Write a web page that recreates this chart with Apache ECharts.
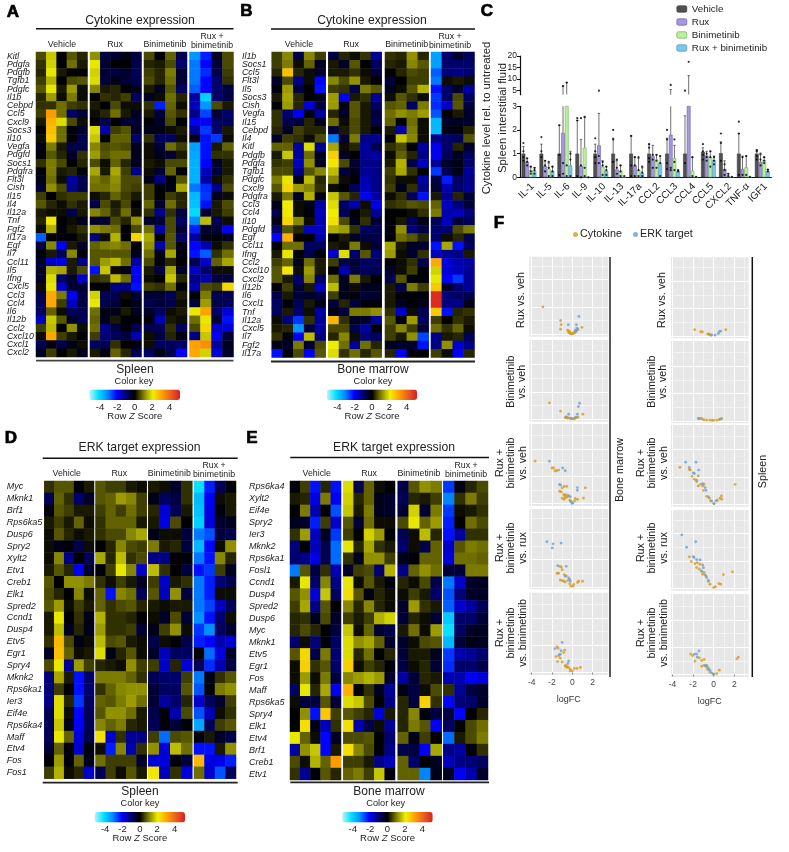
<!DOCTYPE html>
<html><head><meta charset="utf-8">
<script src="https://cdn.jsdelivr.net/npm/echarts@6/dist/echarts.min.js"></script>
<style>html,body{margin:0;padding:0;background:#fff}#c{width:789px;height:852px}</style></head>
<body><div id="c"></div>
<script>
const genesA=["Kitl","Pdgfa","Pdgfb","Tgfb1","Pdgfc","Il1b","Cebpd","Ccl5","Cxcl9","Socs3","Il10","Vegfa","Pdgfd","Socs1","Pdgfra","Flt3l","Cish","Il15","Il4","Il12a","Tnf","Fgf2","Il17a","Egf","Il7","Ccl11","Il5","Ifng","Cxcl5","Ccl3","Ccl4","Il6","Il12b","Ccl2","Cxcl10","Cxcl1","Cxcl2"];
const heatA=[
[.6,1.7,0,.7,.3,1.2,-.6,-.5,-.2,-.6,.6,0,.8,-.7,-3.3,-2.3,-.3,.6],
[.4,1.8,0,.9,.2,2,-.5,0,0,-.7,.3,.2,.6,-1,-3,-2.1,-.5,.6],
[.3,2,.2,0,0,1.8,-.5,-.6,-.4,-.8,.5,.3,1,-.5,-3,-2.4,-.7,.5],
[.5,1.5,0,.6,.7,1.9,-.6,-.2,-.5,-.7,.6,.3,.9,-.5,-3,-2.1,-1,.4],
[.7,2,.2,1.3,.1,1.1,.2,.3,0,-.3,.2,-.3,.7,-.9,-2.8,-2.1,-1,-.7],
[.3,1.3,.1,1,.1,0,.4,.3,.5,-.9,-.3,.1,.9,.3,-1.4,-4,-1,-.6],
[.4,.4,.9,.5,.4,.2,-.1,.6,.1,.1,.4,-2.3,.8,.1,-1.6,-3.3,.6,.2],
[.5,3.2,.9,-1,-.5,.1,.3,.9,.2,-.3,.2,-.5,.7,.4,-1.2,-2.6,-.5,-1],
[.2,2.9,1.9,.6,.1,0,-.7,0,-.5,-.5,0,-.4,.6,-.1,-2,-2,-.9,-.9],
[0,2.7,.9,-.1,-.4,1.9,-1.5,.5,.7,-.4,-.3,-.2,.1,.2,-1.4,-2.5,-1,.2],
[.1,2.6,.9,0,-.7,1.7,-.1,.8,.8,-1,.4,-.9,-.9,.1,-.3,-2.2,-2.5,.1],
[-.2,1,.2,-.7,-.7,1.1,.6,.7,.6,-.3,.1,-.5,.9,.5,-3.4,-2.2,.2,.8],
[-.1,.7,.3,-.4,.4,1.3,.7,.9,.9,-.3,.1,-.3,-.5,.2,-3.5,-2.2,.4,.4],
[.4,1,.6,0,.3,.6,.1,.8,.3,-.3,.2,.1,.6,.6,-3.6,-2.1,-.4,.2],
[-.1,1,.2,.3,-.1,1.4,.2,1.4,.5,-1.2,.1,-.5,.8,0,-3.6,-1.6,-.6,.2],
[-.2,.9,.1,-1.4,-.7,1,.8,1.2,.6,.6,-.2,-1.2,-.1,.7,-3.6,-1.4,.1,.4],
[-.5,1.2,.6,-1.3,-.7,.9,.9,1.1,.6,.5,.5,-.1,-.2,1.4,-3,-2.4,-1.2,.6],
[.5,0,.4,.5,.5,.1,.3,.8,.5,.2,.5,0,.5,.3,-3.7,-2.5,-.3,.1],
[.7,.3,.1,.4,.2,-.7,.6,.2,.6,0,.8,-.4,.9,.3,-3.8,-2.2,.2,.6],
[.2,.1,.1,-.7,.2,1.1,.8,.3,.9,.1,.4,-1.2,.4,-.6,-4.1,-.5,.2,.5],
[.3,2.2,0,.1,-.3,-.4,-.5,.6,.3,1.2,-.4,-.5,.6,-.9,-3.2,1.6,-.8,.1],
[.1,1.5,-.1,.2,.4,1.2,1,.9,-.1,.6,.9,-1.5,.6,-.5,-2.3,-.4,-.5,-2],
[-2.8,0,-.1,-.1,.2,-1.1,.1,1.5,-.1,2.4,1.4,0,.7,-.9,-1.4,-.2,-.1,-.3],
[-.6,1.1,-2,.2,-.4,.8,1,1.1,.9,0,1.2,-1.5,.7,-.2,-2.1,-1.5,.1,.4],
[-.1,.2,-.8,1.1,-.1,.7,.7,.7,.7,-.3,.9,-.3,1.4,-.1,-2.2,-2.8,.4,.9],
[-.4,-1.7,-1.9,.2,-1.2,.7,1.3,1.6,.9,-1.4,.6,-.1,.3,0,-.7,-1.7,.8,1.4],
[-.4,1.5,1.4,.2,.6,-2.2,1.7,.1,-.2,-2,.2,-.6,1.4,-.4,-1.6,-1,.1,.1],
[-.4,1.9,-1,-.4,-1.7,.4,.5,1.6,.9,-2,.1,0,1.7,.3,-1.2,-1.5,-.6,-.6],
[.1,2,-1.7,-.5,-.5,0,0,-1.2,-1.2,-2.2,.5,.4,.9,-.1,-1.5,.6,.5,2.4],
[-.7,3,1,-2,-.6,1.8,-.8,-.7,.1,-.5,-.5,-.5,-.8,.2,-.1,1,-.7,-.8],
[-.8,3,.5,-1.6,-.6,2,-.7,-.5,0,-.3,-.7,-.5,-.7,.1,-.5,1.3,-.7,-.8],
[-.9,.8,.1,-.9,-.7,.9,-.2,-.2,.2,-.3,-.4,-.9,.1,.2,2,3.1,-1,-1.8],
[-1.6,1.7,.7,-.4,-.8,.8,-.2,.2,0,-.1,-.1,-1.5,.2,.1,.9,2,-.5,-2.2],
[.5,1.6,0,1.2,.1,.9,-1.2,-.6,-.1,-.7,-.7,-.8,.4,-.9,.6,2.4,-1.7,-1.8],
[.1,3,.5,.2,-.1,.5,-1.1,-.9,-.6,-1.5,.1,-.6,.3,-.1,-1.2,1.7,-2,-.5],
[-.8,-.2,-.7,-.2,.1,-.9,-.8,.4,0,-.1,.1,-.9,-.9,-.9,3.1,3.4,-1.4,-.3],
[-.3,.5,0,.2,-.3,.2,-.1,.8,.3,-.8,-.9,-.2,-.7,-2,3,1.8,-1.8,-.4]];
const genesB=["Il1b","Socs1","Ccl5","Flt3l","Il5","Socs3","Cish","Vegfa","Il15","Cebpd","Il4","Kitl","Pdgfb","Pdgfa","Tgfb1","Pdgfc","Cxcl9","Pdgfra","Ccl3","Ccl4","Il10","Pdgfd","Egf","Ccl11","Ifng","Ccl2","Cxcl10","Cxcl2","Il12b","Il6","Cxcl1","Tnf","Il12a","Cxcl5","Il7","Fgf2","Il17a"];
const heatB=[
[.5,1.1,-.7,1.1,.5,-.6,.3,.1,.4,-1.3,.4,.3,1.2,.3,-3.4,-1,-.4,-.8],
[.5,1,.1,.8,-.3,.2,-.4,.7,0,-.9,.3,.2,1.1,.7,-3.4,-1,-1,-1],
[.3,2.7,.3,.1,-.4,.2,.2,.4,.1,-.6,0,.3,.6,.5,-2.8,-1.1,-1.2,-1],
[-.4,.6,-1.2,.1,-2.1,1.1,.6,1.2,.2,0,-.5,0,.5,.5,-3,.1,.2,.1],
[-.1,1.3,-.6,0,-2.2,.5,.4,-.7,1,.7,-.3,.1,.7,1.5,-2.2,-1,-.4,-1.4],
[.2,1.4,.3,0,-.2,1.3,-2,.2,.4,-1.3,.1,.7,.4,.1,-2.5,-1,.6,-.9],
[-.1,1.3,.3,-1.8,-.6,1.3,-.2,.7,.2,-.9,.7,.8,-.9,1,-2.4,-1.7,.7,-.6],
[.4,-1,-2,-.2,-1.4,.3,-.4,.7,.2,-.6,.9,1.2,1,1.3,-2.7,0,.2,-.4],
[.4,-.7,-.6,.3,-.3,.9,.1,.6,.2,-.7,.8,0,.9,.1,-3.7,-.4,-.3,-.4],
[.3,-.3,.5,.3,.3,-.5,.2,.6,.2,-.1,.2,-1.5,1,.1,-3.7,-.2,-.1,.3],
[-.4,.5,.4,.1,.6,-3,-.5,1,-1.2,-1.3,-.1,1.7,1.1,.1,-1.2,-1,-.9,.7],
[.8,.8,-1.4,1.9,-1.3,1.4,.1,.3,-1.4,-.7,.4,.6,0,-1.4,-1.9,-1,.3,-.4],
[.2,1.7,-1.4,.9,-.3,2.5,-.4,0,-1.3,-1.4,.1,.8,.3,-1.2,-2,-.8,-.3,-.9],
[.4,.5,-1.6,1.2,-.3,2.2,.6,-.4,-1.2,-1.2,.2,1.5,-.7,-1.6,-1.3,-.4,-.2,-1],
[.6,.6,-1.2,.7,1.1,1.6,-.6,-.2,-1.3,-1.2,.5,1.4,.4,-.1,-2.5,-.7,-.2,-1.3],
[1,2,-.3,1.6,.3,1.1,.1,0,-1.5,-1.2,.4,.1,.1,-1.4,-.6,-2.3,-.9,-1.2],
[.7,2.4,1.3,1.1,.4,.1,0,-.8,-1.6,-1.2,.5,-.3,.4,-1.2,-.5,-1.5,-1,-1.3],
[.2,1,-.4,1.5,-.1,1.7,.7,.3,-2,-1.4,.1,.4,-.8,-2.2,.2,-1.3,.3,-.5],
[-.2,2.1,.1,-.2,-1.4,1.9,-1,-1.5,.1,-1.9,.4,.5,.7,.6,.8,-1.6,-1.1,-.5],
[-.7,2.2,.1,-.1,-1.6,2.1,-.8,0,.2,-1.3,0,0,.1,.4,1,-1.5,-1.6,-1.1],
[-.2,2.4,1.1,.1,-1.5,2.3,.6,-.3,.4,-.5,-.1,.2,-.8,-.2,-.8,-1.6,-.5,-.8],
[-1,.7,.3,-1.6,-1.6,1.5,1.3,.4,-.9,-.8,-.1,1.2,-1.1,-.7,-1,-1,.6,1],
[-2.1,2.9,0,0,-1.4,0,.2,-.4,-.6,-.7,-.1,.9,.7,.3,-1,.1,.3,-.7],
[0,.9,.9,-.9,-.8,.2,.1,1,.1,-.5,1.4,.2,-.4,-.5,-2.2,1.4,-2.2,-.9],
[.2,2,0,-.7,-.1,-1.7,1.9,-1,.7,-1.1,1.3,.1,-.4,.4,-1.6,-1.3,-1.2,.2],
[.5,.8,-.3,.9,.2,.5,-.7,-.5,-.9,-.9,0,.1,.4,-.7,3,-1.8,-1.5,-1.4],
[.7,2.2,.1,1.3,.2,0,-1.5,-.6,-.9,-.8,-.4,.1,.5,-.1,1.8,-1.8,-1.6,-1.3],
[.7,.2,-1,1.1,-1,.9,-.3,1,.2,0,-.7,.7,-.1,-.1,2,-2,-2.5,-1.3],
[-.1,.5,-.6,.2,-1.6,1.6,-.3,.1,-.3,-.3,.2,-.7,1,.5,2.6,-.4,-1,-1.3],
[-.7,.2,-.5,-.4,-.6,.5,-.2,-.1,-.5,-.4,.2,-.1,0,-.1,5,-1.1,-.9,-.7],
[-.9,-.1,-.8,.2,-.2,-.5,.3,-.6,-.1,-.1,.2,-.3,-.1,-.2,5,-1.1,-1.2,-.2],
[-.9,.2,-1,.1,-1.4,-.2,-.6,1,1,1.2,.4,-1.7,.1,-.8,2.6,-2.2,.3,.4],
[.1,-1.1,-2.5,.4,-1.3,2.8,.4,-.3,-.4,-1.4,.7,-.1,1.3,-.9,.5,0,.4,.2],
[.2,.3,-3.3,-.6,-1.4,.6,.6,-.7,-1.4,-.1,.5,1.1,.5,-.5,.9,.4,.8,.1],
[.4,-.1,-2,1.6,-1.1,.3,1.1,.1,-1.1,-.9,.5,.2,1.2,-2.6,-1.2,.2,.3,-.8],
[-.2,-.4,1,-.4,.6,2.1,.9,-1.3,.9,.3,-.3,-.4,-.5,-2.2,-1.2,1.2,-1.7,-1.2],
[-2.2,-.1,.6,-2,.7,1.9,.4,.9,.3,.7,.3,-2,-.1,0,.5,.1,-2,.3]];
const genesD=["Myc","Mknk1","Brf1","Rps6ka5","Dusp6","Spry2","Xylt2","Etv1","Creb1","Elk1","Spred2","Ccnd1","Dusp4","Etv5","Egr1","Spry4","Mknk2","Rps6ka1","Ier3","Eif4e","Rps6ka4","Maff","Etv4","Fos","Fos1"];
const heatD=[
[.4,.7,.7,-.1,.2,.7,.5,.5,.2,.1,.2,.1,-.4,.4,-4.2,-2.3,-.8,-.1],
[-.8,.8,.4,-1,-.4,.7,.8,1.3,1.1,.5,-.2,-.9,-.6,.4,-3.7,-2,.1,.2],
[-.1,.7,.5,.2,.2,.5,.8,.5,.9,.5,.3,-1.8,-.8,.2,-3.8,-1.9,-.1,.2],
[.2,.5,.2,.8,.1,.4,.8,.8,.8,.2,.2,-1.9,.6,0,-4,-1.8,-.4,-.3],
[.1,.7,.3,.1,.2,.4,.6,.6,1.1,1.4,-.2,.1,.1,-.6,-3,-2.7,-.6,-.7],
[.1,-.2,-.1,-.7,.1,0,.3,1.1,.6,.5,1,.2,.3,-.6,-3.7,-2.1,.1,1.2],
[.1,1.1,-1.2,0,-.8,1.4,.3,1.6,.4,.6,-1.2,-1.2,0,-.1,-3,-2.2,1.1,.3],
[.2,.7,.3,-2,-.4,-.1,.5,2,1.1,-1.7,1.6,.4,0,-.6,-2.2,-2.5,.5,-.3],
[.7,0,1.2,1.2,1,.4,.1,.5,.2,-.3,.5,-1.7,.2,.4,-3,-2.3,-1.1,-.7],
[.6,.3,0,1.1,.1,.8,-2.2,1.1,.9,-.8,.7,-1.6,1.2,-.6,-3,-2.3,.1,.1],
[.7,1.3,.1,.5,.2,.8,.4,.6,.7,.3,.2,.1,.2,.2,-3,-2.6,-1.6,-.8],
[.2,2,0,.4,-.2,1.5,.4,.4,.3,0,.1,-.4,.6,-.5,-3.2,-2.2,-1,.1],
[.2,1.6,-.3,.3,-.2,1.3,.4,.4,.5,-.5,-.2,.5,1.2,.1,-2.5,-3.2,-.9,-.4],
[.4,2.8,.6,-.2,.1,1.6,.6,.7,.2,.1,-.7,.1,0,-.7,-2.3,-2.1,-1.5,-1.7],
[-.3,2.7,.8,.1,.2,1.9,-.2,.3,.7,.1,-.4,-1.6,-.9,-.9,0,-2.9,-1.8,-.4],
[.6,2,-1.3,1.3,.5,.3,.2,.1,1.2,.5,.5,-1.7,.3,-1.8,-.8,-2.4,-1.5,-.6],
[-1.1,1.4,.2,-2.2,-1,1,1,1,.8,.4,-.8,-1,-1,.5,-3,-.2,.4,.7],
[-1.1,.5,0,-2.2,-1,.4,.8,1.1,1.2,1.2,-.5,-.9,-.9,.7,-2.7,-.1,1,1.2],
[-1.2,1.9,.3,-2.5,-.9,.8,.7,1,1.3,.9,-.5,-1.4,-1,.3,-1.7,-.9,-.4,.5],
[-.8,1.9,.1,-2.1,-.8,.7,1.2,1.2,.9,.2,-.7,-.1,-1.5,.6,-2.7,-1.6,.1,.4],
[-.8,1.7,-.2,-2,-.8,1.1,.8,1,.3,.2,-.8,-.1,-.5,-.1,-3.5,-.8,.5,.7],
[-.8,2,.8,-1.8,-.7,2.3,-1.7,.4,-1.3,-1.2,.5,-2.9,.6,.7,-.1,.2,-.4,-.7],
[-.5,.8,-.1,-1.7,-.1,.1,-2.3,1.1,-1.5,.4,1.2,-1.8,1.6,.9,-2.2,-2.2,.2,1.2],
[-.1,1.3,-.1,.8,-.2,.9,.5,.5,.5,-.4,-1.8,-1.8,-.1,-.6,2.8,-1.9,-1.9,-2.3],
[.5,1.5,.1,.3,-1.7,-.8,.5,.1,.7,.2,2.2,-1.6,.4,-1.8,.9,-1.7,-2.7,-.8]];
const genesE=["Rps6ka4","Xylt2","Eif4e","Spry2","Ier3","Mknk2","Rps6ka1","Fosl1","Ccnd1","Dusp4","Spred2","Dusp6","Myc","Mknk1","Etv5","Egr1","Fos","Maff","Rps6ka5","Spry4","Elk1","Etv4","Brf1","Creb1","Etv1"];
const heatE=[
[-.1,.5,-2.2,.3,-2.2,1.9,-.7,.8,.1,0,-.7,.7,1.2,1,-2.5,-.2,.3,.6],
[.2,.3,-1.9,1,-2,1.8,.3,.8,-.2,-.4,-.8,.3,.2,.5,-3.1,.4,1,.5],
[0,1,-1.5,0,-2.7,1.7,.2,1,-.3,-.4,-.5,1.8,-.5,1,-2.5,.1,.2,.4],
[-.3,-.4,-2.3,.5,-1.7,.7,-.5,.9,.1,.1,.6,2,.8,1.3,-2.3,0,.9,.6],
[.4,1.3,-1.6,-.3,-2.5,.5,0,1.8,1.3,-.1,-.8,.1,1.6,.3,-2.2,-1.4,.4,.4],
[-1.1,0,-1.6,-.7,-2.9,2,.3,1.4,.4,.2,-1,.1,-.7,.8,-1.7,.7,1,.9],
[-1,-1.2,-1.9,-.7,-2.9,.4,-.3,1.2,1.2,.5,-.2,-.1,.8,.8,-1.8,.9,.9,.8],
[-3,.7,-.6,.4,-1.5,-.4,.5,.6,-1,1.5,-1.2,.8,1.2,.9,-.5,-.5,1,1],
[.2,2,-1,1.1,-1.2,2,.1,.7,.2,-.1,.3,.1,.6,-.7,-3,-1.7,-.4,-.3],
[.7,1.2,-1.8,1.7,-.9,2.3,.7,-.1,.3,.1,.1,.5,.2,-1,-2.7,-1.1,-.4,-.3],
[.5,1.4,-1.2,.7,0,1.1,.3,1.1,.3,.1,-.4,1.3,.4,.2,-2.8,-1.7,-1.4,-.8],
[.3,.4,-.3,.6,-.4,.5,.2,.5,1.5,1.8,-.5,.3,.1,-.5,-3.9,-1,-1,-.5],
[.3,.6,.3,0,-.6,1.7,.1,.8,-.5,-.7,.2,.9,.1,1.3,-4.2,-.9,-.4,-.3],
[-1,.1,-1.1,-.1,-.9,1.9,1.2,1.4,.8,-.4,-.4,.1,.6,.7,-3.7,-.5,-.2,-.3],
[.7,2.4,-.7,1,-1,1.9,.3,.9,0,.3,-.5,.2,.2,-.3,-2.5,-1.5,-1.3,-1],
[.1,2.5,.4,.7,-1,2.5,.1,.5,.3,-.1,-.6,.1,.3,-.5,-2.4,-1,-1,-.7],
[.1,1.3,.1,1,-.6,1.1,1.3,1.5,1.3,-.4,-1.4,-.5,.3,.2,-1.5,-1.5,-2,-1.8],
[-.9,2,.3,1.4,-2,2.9,-.1,.4,-.3,-1.3,-.2,-.6,.1,.6,.4,-1.3,-.6,-.4],
[.1,-.6,-.6,.7,-.5,1.9,1.7,.6,0,-1.2,.3,-.6,2.5,.4,-2.1,-1.1,-1,-.4],
[0,1.2,-2.2,2.6,.5,.7,.5,.3,-1.8,.2,.3,1.1,-.1,-.6,-.6,-2.1,0,.3],
[0,2.3,-.2,-1.6,.4,2.3,-1.5,-.7,.1,-1.3,.3,1,.7,-2,-.9,-.1,.6,.9],
[2,.8,.1,-2.1,-.3,.6,.6,.7,0,-1,.8,-.2,.5,0,-2.9,.2,.6,1],
[-1.4,1.2,1.7,-2.1,.2,2.3,1.1,.6,-.1,-1.2,-.7,-.6,-2,1.4,-1.2,-1.4,-.1,.4],
[.6,.1,1.5,.8,3.2,.5,.5,.2,-1.2,-1.6,.8,-1,0,-.3,-1.6,-1.2,-1.1,-.9],
[.4,-1.3,-.1,.7,.3,.8,1,.5,1.7,-.1,.8,.8,-3.1,-.2,-.3,-2,-1.5,-.4]];
const groupSizes=[5,5,4,4];
const keyTicks=[-4,-2,0,2,4];
const heatColors=['#b4f6ff','#00e0ff','#0088ff','#0000ff','#000070','#000000','#808000','#f0f000','#ffa000','#e86020','#d82020'];

const cytokinesC=["IL-1","IL-5","IL-6","IL-9","IL-10","IL-13","IL-17a","CCL2","CCL3","CCL4","CCL5","CXCL2","TNF-α","IGF1"];
const treatC=["Vehicle","Rux","Binimetinib","Rux + binimetinib"];
const barVehicle=[1,1,1,1,1,1,1,1,1,1,1.08,1.02,1,1];
const barRux=[.65,.47,1.87,.48,1.35,.33,.5,.9,1.8,3.3,.92,.35,.35,.65];
const barBini=[.3,.36,3.3,1.25,.45,.26,.3,.75,.8,.27,.85,.05,.42,.72];
const barCombo=[.27,.26,.5,0,.27,0,.17,.6,.25,0,.72,0,0,.27];
const errVehicle=[1.3,1.4,2.2,2.4,1.4,1.65,1.75,1.4,1.65,2.6,1.25,1.5,1.85,1.15];
const errRux=[.8,.7,7,1.6,2.7,.7,.85,1.35,5.5,11.5,1.1,.7,.9,.95];
const errBini=[.45,.6,8.5,2.55,.7,.5,.8,.95,1.35,.85,1.1,.15,.9,.85];
const errCombo=[.4,.45,1.1,0,.45,0,.4,.9,.3,0,.9,0,0,.33];
const dotsVehicle=[[1.45,1.1,.85,.7],[1.7,1.1,.85],[2.2,.95,.1],[2.5,2.4,.05],[1.65,1.1,.85,.6],[2,1.6,.65],[1.75,.5,.05],[1.4,1.25,.8,.65],[2,1.6,.6,.35],[5,.6],[1.4,1.1,.95,.75],[1.85,1.45,.7],[2.35,1.85,.1],[1.15,1.1,.9,.75]];
const dotsRux=[[.8,.65,.5],[.7,.5,.25],[7,.6,.15],[2.5,.5,0],[5,.9,.6],[.75,.4,.15],[.85,.5,.05],[.95,.75,.4],[7.5,.4,.3],[17.5],[1,.85,.7],[.55,.3,.1],[.85,.1],[1,.75,.5]];
const dotsBini=[[.45,.25,.15],[.65,.4,.05],[8.5,.5,.05],[2.55,.4,.05],[.65,.5,.1],[.5,.25,.05],[.85,.3,.05],[.95,.7,.4],[1.6,.65,.3],[.85,.05],[1.1,.85,.45],[.15,.05],[.9,.1],[.85,.7,.6]];
const dotsCombo=[[.4,.3,.15],[.45,.25,.05],[1,.75,.05],[0],[.45,.3,.1],[.05],[.45,.2,.05],[.9,.6,.05],[.3,.25],[.02],[.85,.7,.55],[.02],[.02],[.33,.25]];
const upperTicksC=[5,10,15,20], lowerTicksC=[0,1,2,3];

const rowLabelsF=["Rux vs. veh","Binimetinib\nvs. veh","Rux +\nbinimetinib\nvs. veh","Rux +\nbinimetinib\nvs. rux","Rux +\nbinimetinib\nvs. binimetinib"];
const cytoBM=[
[[-2.9,2],[-1.15,1],[-1.1,.7],[-1.15,.37],[-.45,.3],[-.4,.25],[-.35,.15],[-.2,.05],[-.1,.03],[0,.02],[.1,.05],[.2,.1],[.3,.2],[.4,.25],[.5,.35],[.95,.5],[-.3,.1],[-.25,.2],[.05,.1],[.25,.15]],
[[-2.26,1.2],[-1.15,.6],[1.05,.37],[-.7,.12],[-.6,.15],[-.45,.12],[-.3,.08],[-.15,.05],[0,.03],[.15,.05],[.3,.1],[.45,.12],[.55,.15],[-.5,.08],[.2,.03]],
[[-3.67,3.1],[-2,2.6],[-1.85,2.6],[-1.7,2.4],[-1.55,2.4],[-1.35,2.45],[-.8,1.25],[-.55,1.25],[-1,1.15],[-1.08,.85],[-1.25,.9],[1.28,1.15],[1.1,.4],[-.85,.65],[-.65,.65],[-1,.4],[-.85,.3],[-.7,.4],[-.45,.5],[-.25,.25],[-.13,.17],[.3,.37],[.52,.3],[.23,.2],[-.75,.55],[-.6,.45]],
[[-1.25,1.5],[-1.08,1.45],[-1,1.25],[-1.35,1],[-1.5,.98],[-.8,.9],[-.6,.8],[-1.18,.5],[-1,.46],[-.85,.41],[-.7,.37],[-.45,.46],[-.25,.22],[-.13,.05],[.07,.05],[.62,.41],[.52,.32],[1,.41],[.13,.17]],
[[-1.5,1.9],[-1.4,1.78],[-.75,1.63],[-.85,1.46],[-1.35,1.22],[-1.6,1.17],[-1.18,1.05],[-1.45,.8],[-1,.78],[-.7,.5],[-.65,.45],[-.6,.5],[-.55,.4],[-.5,.4],[-.36,.37],[-.2,.24],[-.2,.12],[0,.12],[.2,.3],[.46,.3],[.8,.37]]];
const erkBM=[
[[.65,1.3],[-.4,.7],[.4,.7],[.45,.45],[.3,.3],[.55,.35],[.35,.2]],
[[.72,1.17],[.6,.93],[-.36,.37],[.5,.37],[-.6,.17],[-.1,.08],[.35,.15]],
[[-2.26,3.1],[-.95,2.6],[-.7,2.4],[-1.25,1.4],[-1.15,1.35],[.5,1.17],[.5,.97],[-.2,.5],[-.13,.12],[.07,.05],[0,0],[-.4,.6]],
[[-2.5,3.3],[-1.9,3.15],[-1.1,3.2],[-1.97,2.85],[-1.44,1.55],[-.6,1.5],[-.7,.78],[-.36,.66],[-.26,.54],[-.2,.41]],
[[-1,2.2],[-1.7,1.75],[-1.18,1.34],[-1.28,1.3],[-.36,.85],[-.43,.66],[-1.1,1.6]]];
const cytoSP=[
[[-1.85,.45],[-1.26,.3],[-1.1,.28],[-.58,.13],[-.45,.12],[-.36,.07],[1.17,.45],[-.5,.15],[-.25,.05]],
[[-1.5,.17],[-1.26,.17],[-.94,.07],[-.68,.05],[-.36,.05],[0,.03],[.3,.05],[.55,.1],[.78,.17],[-1.1,.15],[-.15,.03]],
[[-3.28,2.7],[-2.37,2.54],[-2.27,2.5],[-2.1,2.04],[-1.5,2.07],[-1.88,1.83],[-1.66,1.66],[-1.27,1.46],[-1.07,1.34],[-.94,1.46],[-1.5,1.34],[-1,1.02],[-.68,.58],[-.42,.44],[-.3,.24],[0,.05],[.36,.3],[.62,.44],[.78,.37],[.75,.61],[2.08,1.46]],
[[-2.37,2.3],[-2.18,1.95],[-1.82,1.8],[-1.6,1.88],[-1.34,1.76],[-1.66,1.51],[-1.4,1.39],[-1.17,1.22],[-.94,1.15],[-1.07,1.02],[-.75,.9],[-.52,.49],[-.36,.3],[0,.05],[.16,.1],[.5,.34],[.68,.3],[.94,1],[1.82,1.2]],
[[-2.24,1.5],[-2.05,1.38],[-1.82,.98],[-1.4,1.22],[-1.17,1.02],[-.94,1.1],[-1.17,.61],[-.94,.66],[-.52,.37],[-.36,.17],[0,.02],[.3,.07],[.55,.32],[2.24,1.15],[2.4,1.27],[-.7,.55],[-.6,.4]]];
const erkSP=[
[[-.2,.07],[.13,.05],[.45,.17],[.68,.35],[.55,.3]],
[[-1.4,.17],[.65,.12]],
[[-2.73,3.07],[-1.72,3.07],[-2.37,2.7],[-1.46,2.5],[-1.88,2.24],[-1.98,2.29],[-1.66,1.76],[-1.07,1.51],[-.84,1.22],[-.75,1.02],[-.52,.54],[-.2,.24],[.03,.05],[.22,.24]],
[[-3.1,3.9],[-1.75,3.4],[-2.63,3],[-1.92,2.24],[-1.98,2.32],[-1.66,2.1],[-1.33,2.07],[-1.07,1.7],[-1,1.5],[-1.17,1.27],[-.84,.98],[-.68,.78],[-.52,.58]],
[[-1.43,1.73],[-1.66,1.5],[-1.6,1.27],[-1.88,1.49],[-.68,.66],[-.52,.49],[-.36,.32],[-.2,.12],[0,.02],[-.8,.65]]];
const xMajorF=[-4,-2,0,2], xMinorF=[-3,-1,1,3], yMajorF=[0,2,4], yMinorF=[1,3,5];

const FONT='Liberation Sans';
const grids=[],xAxes=[],yAxes=[],series=[],graphics=[],visualMaps=[];
function addGrid(g,x,y){const i=grids.length;grids.push(g);x.gridIndex=i;y.gridIndex=i;xAxes.push(x);yAxes.push(y);return i;}
function txt(t,x,y,size,opt){opt=opt||{};graphics.push({type:'text',x,y,rotation:opt.rot||0,silent:true,style:Object.assign({text:t,align:opt.align||'center',verticalAlign:'middle',fontFamily:FONT,fontSize:size,fontWeight:opt.w||'normal',fill:opt.color||'#222',lineHeight:opt.lh||size*1.05},opt.style||{})});}
function letter(t,x,y){txt(t,x,y,17,{w:'bold',color:'#000',style:{stroke:'#000',lineWidth:.7}});}
function line(x1,y1,x2,y2,w,c){graphics.push({type:'line',silent:true,shape:{x1,y1,x2,y2},style:{stroke:c||'#000',lineWidth:w}});}

function heatPanel(p){
  let start=0;const idx=[];
  groupSizes.forEach((n,gi)=>{
    const c=p.cols[gi];
    const data=[];
    p.matrix.forEach((row,r)=>{for(let k=0;k<n;k++)data.push([k,r,row[start+k]]);});
    const first=gi===0;
    const g=addGrid({left:c[0],width:c[1]-c[0],top:p.top,height:p.bottom-p.top},
      {type:'category',show:false,data:Array.from({length:n},(_,k)=>k)},
      {type:'category',inverse:true,data:p.genes,show:first,axisLine:{show:false},axisTick:{show:false},
       axisLabel:{show:first,interval:0,align:'left',margin:c[0]-p.labelX,fontFamily:FONT,fontStyle:'italic',fontSize:p.labelSize,color:'#1a1a1a'}});
    idx.push(series.length);
    series.push({type:'heatmap',xAxisIndex:g,yAxisIndex:g,data,silent:true,progressive:0});
    start+=n;
  });
  const k=p.key;
  visualMaps.push({type:'continuous',seriesIndex:idx,min:-5.2,max:5.2,calculable:false,orient:'horizontal',left:k.x0,top:k.y0,itemWidth:k.y1-k.y0,itemHeight:k.x1-k.x0,text:null,padding:0,showLabel:false,inRange:{color:heatColors},textStyle:{fontSize:0},realtime:false,hoverLink:false});
  addGrid({left:k.x0,width:k.x1-k.x0,top:k.y0,height:k.y1-k.y0,show:false},
    {type:'value',min:-5.2,max:5.2,splitLine:{show:false},axisLine:{show:false},
     axisTick:{show:false,customValues:keyTicks},
     axisLabel:{customValues:keyTicks,fontFamily:FONT,fontSize:9.5,color:'#222',margin:2}},
    {type:'value',show:false,min:0,max:1});
  txt(p.title,p.titleX,p.titleY,12.2);
  line(p.ruleX0,p.topRule,p.ruleX1,p.topRule,1.4,'#111');
  line(p.ruleX0,p.botRule,p.ruleX1,p.botRule,1.8,p.botColor||'#222');
  ['Vehicle','Rux','Binimetinib'].forEach((t,i)=>txt(t,p.groupX[i],p.groupY,8.8));
  txt('Rux +\nbinimetinib',p.groupX[3],p.groupY-4.4,8.8,{lh:9});
  txt(p.tissue,p.tissueX,p.tissueY,12);
  txt('Color key',p.ckX,p.tissueY+11.3,9.2);
  graphics.push({type:'text',x:(k.x0+k.x1)/2,y:k.y0+26.5,silent:true,style:{text:'Row {i|Z} Score',align:'center',verticalAlign:'middle',fontFamily:FONT,fontSize:9.5,fill:'#222',rich:{i:{fontFamily:FONT,fontSize:9.5,fontStyle:'italic',fill:'#222'}}}});
  letter(p.letter,p.letterX,p.letterY);
}
heatPanel({letter:'A',letterX:13,letterY:12,genes:genesA,matrix:heatA,top:52,bottom:357,labelX:7,labelSize:8.8,
 cols:[[36,87.5],[90,141.5],[144,187],[189.5,233.5]],key:{x0:89.5,x1:180,y0:389.5,y1:400},
 title:'Cytokine expression',titleX:140,titleY:21,ruleX0:36,ruleX1:233.5,topRule:28.7,botRule:360.7,botColor:'#444',
 groupX:[62,115,165,212],groupY:45,tissue:'Spleen',tissueX:135,tissueY:370,ckX:134});
heatPanel({letter:'B',letterX:246.5,letterY:11,genes:genesB,matrix:heatB,top:52,bottom:357.5,labelX:242,labelSize:8.8,
 cols:[[271.7,325.7],[328.3,381.7],[385,428.7],[431,474.5]],key:{x0:327,x1:417,y0:389.5,y1:400},
 title:'Cytokine expression',titleX:372,titleY:20.5,ruleX0:271,ruleX1:475,topRule:29,botRule:361.5,
 groupX:[299,351,406.7,450],groupY:45,tissue:'Bone marrow',tissueX:373,tissueY:370,ckX:373});
heatPanel({letter:'D',letterX:11,letterY:438,genes:genesD,matrix:heatD,top:481,bottom:778.7,labelX:6.7,labelSize:9,
 cols:[[44.3,94],[95.5,146.7],[148.3,192.3],[194,236]],key:{x0:94.7,x1:185,y0:812,y1:822.5},
 title:'ERK target expression',titleX:139.5,titleY:447.7,ruleX0:42.7,ruleX1:237.7,topRule:458.3,botRule:782.7,
 groupX:[66.7,119.3,169.3,214],groupY:474,tissue:'Spleen',tissueX:140,tissueY:791.7,ckX:140});
heatPanel({letter:'E',letterX:252,letterY:438,genes:genesE,matrix:heatE,top:481,bottom:780,labelX:249,labelSize:9,
 cols:[[290,341],[343.3,395],[397.7,441.7],[443.3,488]],key:{x0:342.3,x1:432.7,y0:812,y1:822.5},
 title:'ERK target expression',titleX:394,titleY:447.7,ruleX0:290.3,ruleX1:489,topRule:457.5,botRule:782.3,
 groupX:[316.7,369,419,466],groupY:474,tissue:'Bone marrow',tissueX:389,tissueY:791.7,ckX:385.7});

/* Panel C */
const barSets=[
 {name:treatC[0],v:barVehicle,e:errVehicle,d:dotsVehicle,c:'#505050',b:'#333333'},
 {name:treatC[1],v:barRux,e:errRux,d:dotsRux,c:'#a596dd',b:'#5f4fa8'},
 {name:treatC[2],v:barBini,e:errBini,d:dotsBini,c:'#bdee9c',b:'#5ea84e'},
 {name:treatC[3],v:barCombo,e:errCombo,d:dotsCombo,c:'#7fc4ea',b:'#3b8cb5'}];
const C_LEFT=520,C_W=251.3,BAR=3.7;
const gLow=addGrid({left:C_LEFT,width:C_W,top:106.3,height:71},
 {type:'category',data:cytokinesC,axisLine:{lineStyle:{color:'#111',width:1.2}},axisTick:{show:false},
  axisLabel:{interval:0,rotate:45,fontFamily:FONT,fontSize:10,color:'#222',margin:4,align:'right',verticalAlign:'top'}},
 {type:'value',min:0,max:3,interval:1,splitLine:{show:false},axisLine:{show:true,lineStyle:{color:'#111',width:1.2}},axisTick:{show:true,length:3,lineStyle:{color:'#111'}},
  axisLabel:{fontFamily:FONT,fontSize:8.5,color:'#222',margin:3,customValues:lowerTicksC}});
const gUp=addGrid({left:C_LEFT,width:C_W,top:56,height:38.7},
 {type:'category',data:cytokinesC,show:false},
 {type:'value',min:3.27,max:20,splitLine:{show:false},axisLine:{show:true,lineStyle:{color:'#111',width:1.2}},
  axisTick:{show:true,length:3,customValues:upperTicksC,lineStyle:{color:'#111'}},
  axisLabel:{fontFamily:FONT,fontSize:8.5,color:'#222',margin:3,customValues:upperTicksC}});
[gLow,gUp].forEach(g=>{
  barSets.forEach((s,gi)=>{
    series.push({type:'bar',name:s.name,xAxisIndex:g,yAxisIndex:g,data:s.v,barWidth:BAR,barGap:'0%',silent:true,
      itemStyle:{color:s.c,borderColor:s.b,borderWidth:.5}});
  });
  barSets.forEach((s,gi)=>{
    const dx=(gi-1.5)*BAR;
    series.push({type:'custom',name:s.name+' sd',xAxisIndex:g,yAxisIndex:g,clip:true,silent:true,z:4,
      data:s.e.map((t,i)=>[i,t,s.v[i]]),encode:{x:0,y:1},
      renderItem:(params,api)=>{
        const a=api.coord([api.value(0),api.value(2)]),b=api.coord([api.value(0),api.value(1)]);
        const x=a[0]+dx,st={stroke:'#333',lineWidth:.7};
        return {type:'group',children:[
          {type:'line',shape:{x1:x,y1:a[1],x2:x,y2:b[1]},style:st},
          {type:'line',shape:{x1:x-1.2,y1:b[1],x2:x+1.2,y2:b[1]},style:st}]};
      }});
    series.push({type:'scatter',name:s.name+' pts',xAxisIndex:g,yAxisIndex:g,silent:true,z:5,symbolSize:2.2,symbolOffset:[dx,0],
      itemStyle:{color:'#000'},
      data:s.d.flatMap((arr,i)=>arr.map(v=>[i,v]))});
  });
});
txt('Cytokine level rel. to untreated\nSpleen interstitial fluid',495,118,11.3,{rot:Math.PI/2,lh:16});
letter('C',487,11);

/* Panel F */
const COL_CYTO='#d39b22',COL_ERK='#6f9fcf';
function facet(x0,x1,y0,y1,xMin,xMax,cyto,erk,last){
  const yMin=-.18,yMax=yMin+(y1-y0)/13.67;
  const g={left:x0,width:x1-x0,top:y0,height:y1-y0,show:true,backgroundColor:'#e7e7e7',borderWidth:0};
  const mkX=(vals,w,showLbl)=>({type:'value',min:xMin,max:xMax,axisLine:{show:false},
     axisTick:{show:showLbl,length:2,customValues:vals,lineStyle:{color:'#555',width:.7}},
     axisLabel:{show:showLbl,customValues:vals,fontFamily:FONT,fontSize:8.5,color:'#444',margin:3},
     splitLine:{show:true,lineStyle:{color:'#fff',width:w}}});
  const mkY=(vals,w)=>({type:'value',min:yMin,max:yMax,axisLine:{show:false},axisTick:{show:false,customValues:vals},
     axisLabel:{show:false,customValues:vals},splitLine:{show:true,lineStyle:{color:'#fff',width:w}}});
  addGrid(g,mkX(xMinorF,.5,false),mkY(yMinorF,.5));
  const gj=addGrid(Object.assign({},g,{backgroundColor:'transparent',show:false}),mkX(xMajorF,1,last),mkY(yMajorF,1));
  if(last){xAxes[gj].name='logFC';xAxes[gj].nameLocation='middle';xAxes[gj].nameGap=20;xAxes[gj].nameTextStyle={fontFamily:FONT,fontSize:9,color:'#333'};}
  series.push({type:'scatter',name:'Cytokine',xAxisIndex:gj,yAxisIndex:gj,data:cyto,symbolSize:2.8,itemStyle:{color:COL_CYTO},silent:true,z:3});
  series.push({type:'scatter',name:'ERK target',xAxisIndex:gj,yAxisIndex:gj,data:erk,symbolSize:2.8,itemStyle:{color:COL_ERK},silent:true,z:3});
}
const fL=[[256.7,336.7],[340,421.7],[424,506],[509,589.3],[592.7,675]];
const fR=[[257.3,338.3],[341,423.3],[425,506.7],[510,590.7],[594,677]];
fL.forEach((r,i)=>facet(529.3,608.3,r[0],r[1],-4.24,3.55,cytoBM[i],erkBM[i],i===4));
fR.forEach((r,i)=>facet(671,748.7,r[0],r[1],-4.15,3.4,cytoSP[i],erkSP[i],i===4));
const rowCY=[300,381.7,463,548,633];
const rowCX=[521,516.5,511.5,511.5,511.5];
rowLabelsF.forEach((t,i)=>{
  txt(t,rowCX[i],rowCY[i],10.7,{rot:Math.PI/2,lh:11.5});
  txt(t,rowCX[i]+141,rowCY[i],10.7,{rot:Math.PI/2,lh:11.5});
});
line(610,257,610,677,1.5,'#222');line(752.3,257,752.3,677,1.5,'#111');
txt('Bone marrow',620.5,470,10.8,{rot:Math.PI/2});
txt('Spleen',763.5,471.5,10.8,{rot:Math.PI/2});
letter('F',499,223);

const option={animation:false,backgroundColor:'#fff',textStyle:{fontFamily:FONT},tooltip:{show:false},
 grid:grids,xAxis:xAxes,yAxis:yAxes,series,visualMap:visualMaps,graphic:{elements:graphics},
 legend:[
  {data:treatC,orient:'vertical',left:676.5,top:4,itemWidth:10,itemHeight:6.5,itemGap:3,padding:0,selectedMode:false,
   textStyle:{fontFamily:FONT,fontSize:9.8,color:'#222'},itemStyle:{borderWidth:.6}},
  {data:['Cytokine','ERK target'],orient:'horizontal',left:573,top:229,icon:'circle',itemWidth:5,itemHeight:5,itemGap:11,padding:0,selectedMode:false,
   textStyle:{fontFamily:FONT,fontSize:10.8,color:'#222',padding:[0,0,0,-3]}}]};
const chart=echarts.init(document.getElementById('c'),null,{renderer:'canvas'});
chart.setOption(option);
</script></body></html>
